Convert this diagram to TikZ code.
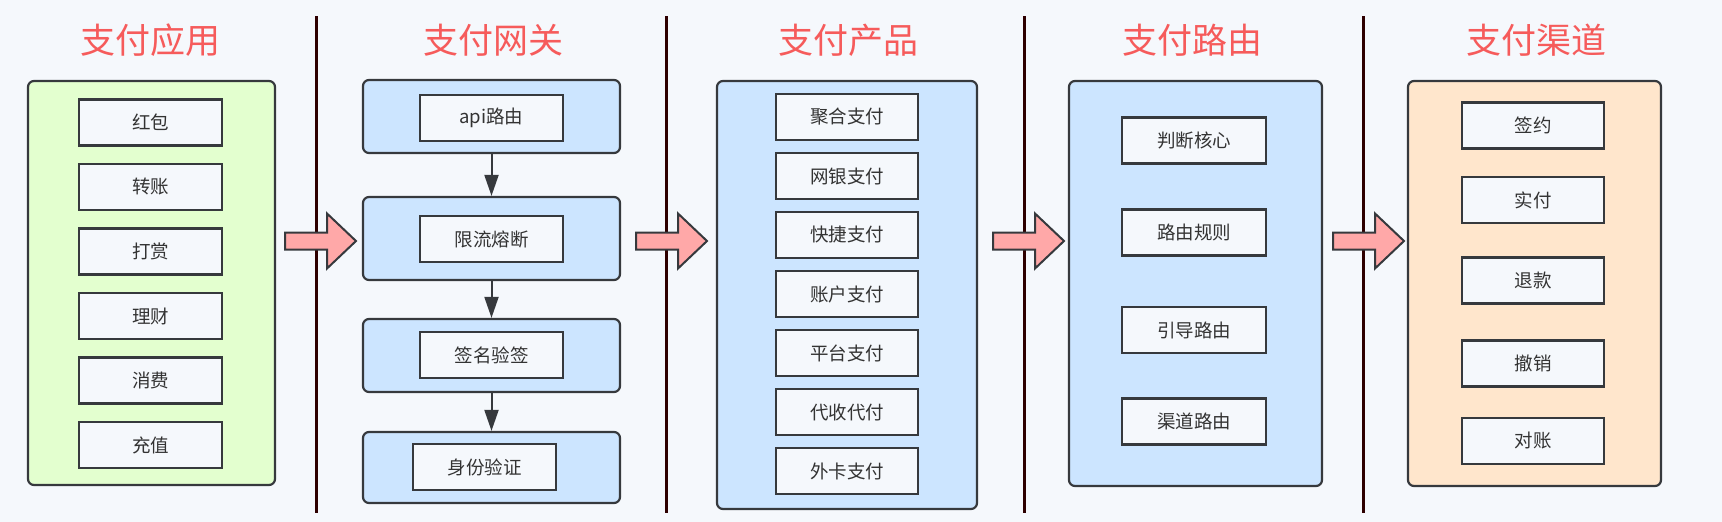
\documentclass[tikz,border=0pt]{standalone}
\usepackage{fontspec}
\setmainfont{Noto Sans CJK SC}
\usetikzlibrary{arrows.meta}
\definecolor{bgc}{HTML}{F5F8FC}
\definecolor{strk}{HTML}{36393D}
\definecolor{greenf}{HTML}{E3FFCF}
\definecolor{bluef}{HTML}{CCE5FF}
\definecolor{orangef}{HTML}{FFE6CC}
\definecolor{titlec}{HTML}{F65B5B}
\definecolor{sepc}{HTML}{2E0000}
\definecolor{arrowf}{HTML}{FFA8A8}
\definecolor{textc}{HTML}{333333}
\tikzset{
  container/.style={draw=strk, line width=2.2pt, rounded corners=6pt, inner sep=0pt},
  itembox/.style={draw=strk, line width=2.2pt, fill=bgc, text=textc, inner sep=0pt,
    minimum height=46pt, font=\fontsize{18.5pt}{20pt}\selectfont},
  coltitle/.style={text=titlec, font=\fontsize{35pt}{38pt}\selectfont, inner sep=0pt},
  sepline/.style={draw=sepc, line width=3pt},
  flowarrow/.style={draw=strk, line width=2pt, -{Triangle[length=21pt,width=14pt]}},
  bigarrow/.style={draw=strk, line width=2pt, fill=arrowf, line join=miter},
}
\begin{document}
\begin{tikzpicture}[x=1pt,y=-1pt]
\useasboundingbox (0,0) rectangle (1722,522);
\fill[bgc] (0,0) rectangle (1722,522);

% separators
\foreach \sx/\nm in {316/s1,666/s2,1024/s3,1363/s4}{
  \coordinate (\nm top) at (\sx,16);
  \coordinate (\nm bot) at (\sx,513);
  \draw[sepline] (\nm top) -- (\nm bot);
}

% titles
\node[coltitle] (t1) at (150,40) {支付应用};
\node[coltitle] (t2) at (493,40) {支付网关};
\node[coltitle] (t3) at (848,40) {支付产品};
\node[coltitle] (t4) at (1192,40) {支付路由};
\node[coltitle] (t5) at (1536,40) {支付渠道};

% column 1: apps
\node[container, fill=greenf, minimum width=247pt, minimum height=404pt] (app) at (151.5,283) {};
\node[itembox, minimum width=143pt] (a1) at (150.5,122.5) {红包};
\node[itembox, minimum width=143pt] (a2) at (150.5,187) {转账};
\node[itembox, minimum width=143pt] (a3) at (150.5,251.5) {打赏};
\node[itembox, minimum width=143pt] (a4) at (150.5,316) {理财};
\node[itembox, minimum width=143pt] (a5) at (150.5,380.5) {消费};
\node[itembox, minimum width=143pt] (a6) at (150.5,445) {充值};

% column 2: gateway
\node[container, fill=bluef, minimum width=257pt, minimum height=73pt] (g1) at (491.5,116.5) {};
\node[container, fill=bluef, minimum width=257pt, minimum height=83pt] (g2) at (491.5,238.5) {};
\node[container, fill=bluef, minimum width=257pt, minimum height=73pt] (g3) at (491.5,355.5) {};
\node[container, fill=bluef, minimum width=257pt, minimum height=71pt] (g4) at (491.5,467.5) {};
\node[itembox, minimum width=143pt] (gi1) at (491.5,118) {api路由};
\node[itembox, minimum width=143pt] (gi2) at (491.5,239) {限流熔断};
\node[itembox, minimum width=143pt] (gi3) at (491.5,355) {签名验签};
\node[itembox, minimum width=143pt] (gi4) at (484.5,467) {身份验证};
\draw[flowarrow] (g1.south) -- (g2.north);
\draw[flowarrow] (g2.south) -- (g3.north);
\draw[flowarrow] (g3.south) -- (g4.north);

% column 3: products
\node[container, fill=bluef, minimum width=260pt, minimum height=428pt] (prod) at (847,295) {};
\node[itembox, minimum width=142pt] (p1) at (847,117) {聚合支付};
\node[itembox, minimum width=142pt] (p2) at (847,176) {网银支付};
\node[itembox, minimum width=142pt] (p3) at (847,235) {快捷支付};
\node[itembox, minimum width=142pt] (p4) at (847,294) {账户支付};
\node[itembox, minimum width=142pt] (p5) at (847,353) {平台支付};
\node[itembox, minimum width=142pt] (p6) at (847,412) {代收代付};
\node[itembox, minimum width=142pt] (p7) at (847,471) {外卡支付};

% column 4: routing
\node[container, fill=bluef, minimum width=253pt, minimum height=405pt] (route) at (1195.5,283.5) {};
\node[itembox, minimum width=144pt] (r1) at (1194,140.5) {判断核心};
\node[itembox, minimum width=144pt] (r2) at (1194,232.5) {路由规则};
\node[itembox, minimum width=144pt] (r3) at (1194,330) {引导路由};
\node[itembox, minimum width=144pt] (r4) at (1194,421.5) {渠道路由};

% column 5: channels
\node[container, fill=orangef, minimum width=253pt, minimum height=405pt] (chan) at (1534.5,283.5) {};
\node[itembox, minimum width=142pt] (c1) at (1533,125.5) {签约};
\node[itembox, minimum width=142pt] (c2) at (1533,200) {实付};
\node[itembox, minimum width=142pt] (c3) at (1533,280.5) {退款};
\node[itembox, minimum width=142pt] (c4) at (1533,363.5) {撤销};
\node[itembox, minimum width=142pt] (c5) at (1533,441) {对账};

% big arrows
\foreach \ax in {285,636,993,1333}{
  \draw[bigarrow] (\ax,232.5) -- ++(42,0) -- ++(0,-19) -- ++(29,27.5) -- ++(-29,27.5) -- ++(0,-19) -- ++(-42,0) -- cycle;
}
\end{tikzpicture}
\end{document}
